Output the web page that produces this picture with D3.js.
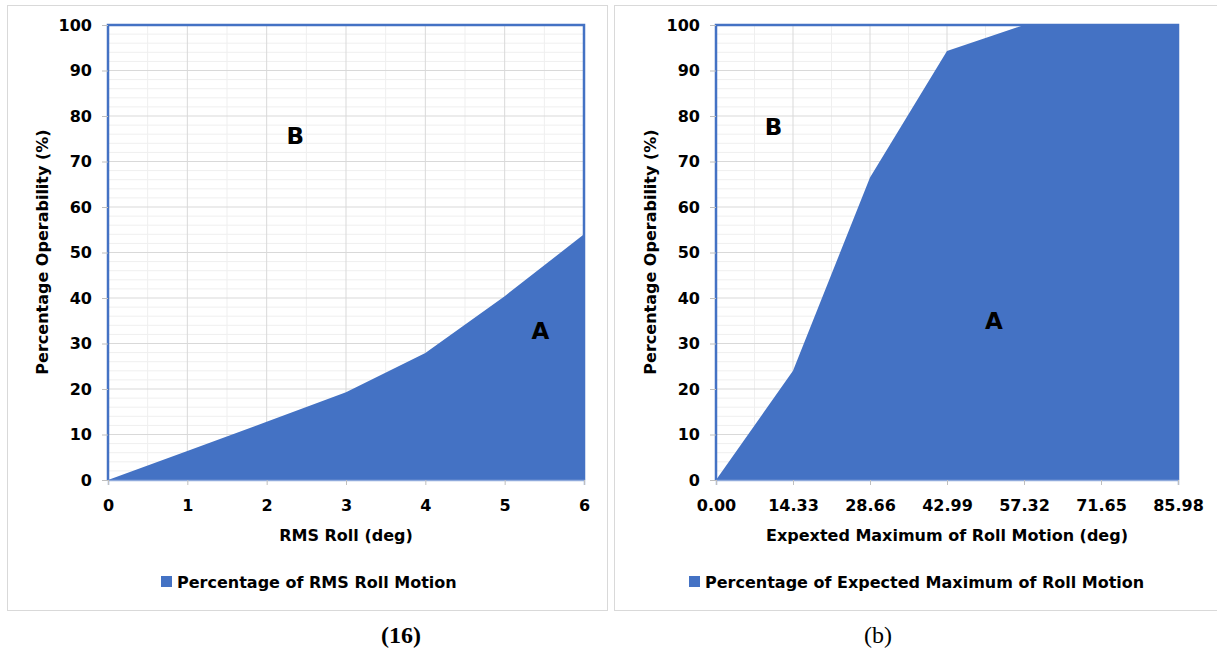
<!DOCTYPE html>
<html>
<head>
<meta charset="utf-8">
<script src="https://cdn.jsdelivr.net/npm/d3@7"></script>
<style>
  body { margin: 0; background: #fff; }
  svg text { font-family: "DejaVu Sans", Arial, sans-serif; }
</style>
</head>
<body>
<svg id="chart" width="1217" height="653"></svg>
<script>
// left panel: RMS roll
const rmsRoll = [0, 1, 2, 3, 4, 5, 6];
const rmsPct = [0, 6.4, 12.8, 19.3, 27.9, 40.4, 54];
// right panel: expected maximum of roll motion
const maxRoll = [0, 14.33, 28.66, 42.99, 57.32, 71.65, 85.98];
const maxPct = [0, 24, 66.5, 94.3, 100, 100, 100];
const maxTicks = ["0.00", "14.33", "28.66", "42.99", "57.32", "71.65", "85.98"];
const yTicks = [0, 10, 20, 30, 40, 50, 60, 70, 80, 90, 100];

const blue = "#4472C4";
const svg = d3.select("#chart");

function panel(opt) {
  const g = svg.append("g");
  // panel frame
  g.append("rect")
    .attr("x", opt.box[0] + 0.5).attr("y", 5.5)
    .attr("width", opt.box[1]).attr("height", 605)
    .attr("fill", "#fff").attr("stroke", "#d9d9d9");

  const x = d3.scaleLinear().domain([opt.xs[0], opt.xs[opt.xs.length - 1]]).range([opt.left, opt.right]);
  const y = d3.scaleLinear().domain([0, 100]).range([480, 25]);

  // minor grid
  const step = opt.xs[1] - opt.xs[0];
  const minorX = d3.range(opt.xs.length - 1).map(i => opt.xs[i] + step / 2);
  g.selectAll(".mx").data(minorX).enter().append("line")
    .attr("x1", d => x(d)).attr("x2", d => x(d)).attr("y1", 25).attr("y2", 480)
    .attr("stroke", "#efefef");
  g.selectAll(".my").data(d3.range(2, 100, 2).filter(v => v % 10)).enter().append("line")
    .attr("x1", opt.left).attr("x2", opt.right).attr("y1", d => y(d)).attr("y2", d => y(d))
    .attr("stroke", "#efefef");
  // major grid
  g.selectAll(".gx").data(opt.xs).enter().append("line")
    .attr("x1", d => x(d)).attr("x2", d => x(d)).attr("y1", 25).attr("y2", 480)
    .attr("stroke", "#d9d9d9");
  g.selectAll(".gy").data(yTicks).enter().append("line")
    .attr("x1", opt.left).attr("x2", opt.right).attr("y1", d => y(d)).attr("y2", d => y(d))
    .attr("stroke", "#d9d9d9");

  // area
  const area = d3.area().x((d, i) => x(opt.xs[i])).y0(y(0)).y1(d => y(d));
  g.append("path").datum(opt.ys).attr("d", area).attr("fill", blue);

  // plot border
  g.append("path")
    .attr("d", `M${opt.left},${y(0)}V${y(100)}H${opt.right}V${y(0)}`)
    .attr("fill", "none").attr("stroke", blue).attr("stroke-width", 2.5);

  // axes
  const xAxis = g.append("g").attr("transform", "translate(0,480)")
    .call(d3.axisBottom(x).tickValues(opt.xs).tickFormat((d, i) => opt.xLabels[i]).tickSize(5).tickPadding(15));
  xAxis.select(".domain").attr("stroke", "#8faadc").attr("stroke-width", 1.5);
  const yAxis = g.append("g").attr("transform", `translate(${opt.left},0)`)
    .call(d3.axisLeft(y).tickValues(yTicks).tickSize(6).tickPadding(10));
  yAxis.select(".domain").remove();
  g.selectAll(".tick line").attr("stroke", "#bfbfbf");
  g.selectAll(".tick text").attr("font-size", 16).attr("font-weight", "bold").attr("fill", "#000");

  // titles
  g.append("text").attr("x", (opt.left + opt.right) / 2).attr("y", 541)
    .attr("text-anchor", "middle").attr("font-size", 16).attr("font-weight", "bold")
    .text(opt.xTitle);
  g.append("text")
    .attr("transform", `translate(${opt.left - 60},252) rotate(-90)`)
    .attr("text-anchor", "middle").attr("font-size", 16).attr("font-weight", "bold")
    .text("Percentage Operability (%)");

  // legend
  g.append("rect").attr("x", opt.legendX).attr("y", 576).attr("width", 11).attr("height", 11).attr("fill", blue);
  g.append("text").attr("x", opt.legendX + 16).attr("y", 588)
    .attr("font-size", 16).attr("font-weight", "bold").text(opt.legend);

  // region labels
  [["A", opt.a], ["B", opt.b]].forEach(([t, p]) => {
    g.append("text").attr("x", x(p[0])).attr("y", y(p[1]))
      .attr("text-anchor", "middle").attr("dominant-baseline", "middle")
      .attr("font-family", "'Open Sans', 'DejaVu Sans', sans-serif")
      .attr("font-size", 23).attr("font-weight", "bold").text(t);
  });

  // caption
  svg.append("text").attr("x", opt.capX).attr("y", 643)
    .attr("text-anchor", "middle").attr("font-size", 24)
    .attr("font-weight", opt.capBold ? "bold" : "normal")
    .style("font-family", "'Liberation Serif', 'DejaVu Serif', serif")
    .text(opt.caption);
}

panel({
  box: [7, 600], left: 108, right: 584,
  xs: rmsRoll, ys: rmsPct, xLabels: rmsRoll.map(String),
  xTitle: "RMS Roll (deg)", legend: "Percentage of RMS Roll Motion", legendX: 161,
  a: [5.45, 32.4], b: [2.36, 75.3], caption: "(16)", capX: 401, capBold: true
});
panel({
  box: [614, 610], left: 716, right: 1178,
  xs: maxRoll, ys: maxPct, xLabels: maxTicks,
  xTitle: "Expexted Maximum of Roll Motion (deg)", legend: "Percentage of Expected Maximum of Roll Motion", legendX: 689,
  a: [51.7, 34.7], b: [10.7, 77.3], caption: "(b)", capX: 878, capBold: false
});
</script>
</body>
</html>
